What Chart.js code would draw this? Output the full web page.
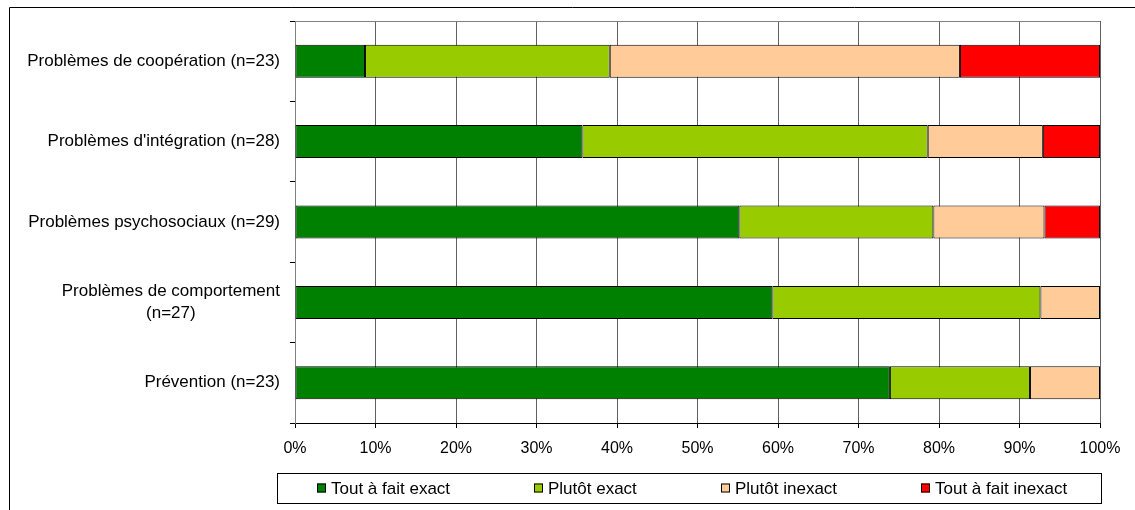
<!DOCTYPE html>
<html>
<head>
<meta charset="utf-8">
<script src="https://cdn.jsdelivr.net/npm/chart.js@4.4.1/dist/chart.umd.min.js"></script>
<style>
  html, body { margin: 0; padding: 0; background: #fff; }
  #wrap { width: 1135px; height: 510px; }
</style>
</head>
<body>
<div id="wrap"><canvas id="chart" width="1135" height="510"></canvas></div>
<script>
// categories (top to bottom) and the four answer shares, in %
const categories = [
  'Problèmes de coopération (n=23)',
  "Problèmes d'intégration (n=28)",
  'Problèmes psychosociaux (n=29)',
  ['Problèmes de comportement', '(n=27)'],
  'Prévention (n=23)'
];
const seriesNames = ['Tout à fait exact', 'Plutôt exact', 'Plutôt inexact', 'Tout à fait inexact'];
const toutExact     = [8.7, 35.7, 55.2, 59.3, 73.9];
const plutotExact   = [30.4, 42.9, 24.1, 33.3, 17.4];
const plutotInexact = [43.5, 14.3, 13.8, 7.4, 8.7];
const toutInexact   = [17.4, 7.1, 6.9, 0, 0];
const xTicks = [0, 10, 20, 30, 40, 50, 60, 70, 80, 90, 100];

const colors = ['#008000', '#99CC00', '#FFCC99', '#FF0000'];
const FONT = '"Liberation Sans", Arial, sans-serif';

// frame, plot border, category labels and boxed legend
const excelLook = {
  id: 'excelLook',
  beforeDraw(chart) {
    const c = chart.ctx;
    c.save();
    c.fillStyle = '#fff';
    c.fillRect(0, 0, chart.width, chart.height);
    c.strokeStyle = '#000';
    c.lineWidth = 1;
    c.beginPath();
    c.moveTo(9.5, chart.height + 2);
    c.lineTo(9.5, 7.5);
    c.lineTo(chart.width + 2, 7.5);
    c.stroke();
    c.restore();
  },
  beforeDatasetsDraw(chart) {
    const a = chart.chartArea, c = chart.ctx;
    c.save();
    c.strokeStyle = '#808080';
    c.lineWidth = 1;
    c.beginPath();
    c.moveTo(a.left, a.top + 0.5);
    c.lineTo(a.right, a.top + 0.5);
    c.stroke();
    c.restore();
  },
  afterDraw(chart) {
    const c = chart.ctx, y = chart.scales.y;
    c.save();
    c.fillStyle = '#000';
    c.font = '17px ' + FONT;
    c.textBaseline = 'middle';
    const right = y.right - 15;
    categories.forEach((lab, i) => {
      const py = y.getPixelForTick(i);
      if (Array.isArray(lab)) {
        const w = Math.max(...lab.map(l => c.measureText(l).width));
        const cx = right - w / 2;
        c.textAlign = 'center';
        lab.forEach((l, k) => c.fillText(l, cx, py + (k - (lab.length - 1) / 2) * 22));
      } else {
        c.textAlign = 'right';
        c.fillText(lab, right, py);
      }
    });

    // legend
    const box = { l: 277, t: 473, r: 1101, b: 503 };
    c.strokeStyle = '#000';
    c.strokeRect(box.l + 0.5, box.t + 0.5, box.r - box.l, box.b - box.t);
    const sq = 9, gapTxt = 5, gapItem = 84;
    const widths = seriesNames.map(n => sq + gapTxt + c.measureText(n).width);
    const total = widths.reduce((s, w) => s + w, 0) + gapItem * (seriesNames.length - 1);
    let x = Math.round(692 - total / 2);
    const my = (box.t + box.b) / 2;
    c.textAlign = 'left';
    seriesNames.forEach((n, i) => {
      c.fillStyle = colors[i];
      c.fillRect(x, my - sq / 2, sq, sq);
      c.strokeRect(x + 0.5, my - sq / 2 + 0.5, sq - 1, sq - 1);
      c.fillStyle = '#000';
      c.fillText(n, x + sq + gapTxt, my + 1);
      x += Math.round(widths[i] + gapItem);
    });
    c.restore();
  }
};

const values = [toutExact, plutotExact, plutotInexact, toutInexact];

new Chart(document.getElementById('chart'), {
  type: 'bar',
  data: {
    labels: categories,
    datasets: seriesNames.map((name, i) => ({
      label: name,
      data: values[i],
      backgroundColor: colors[i],
      borderColor: '#000',
      borderWidth: 1,
      borderSkipped: false,
      categoryPercentage: 1,
      barPercentage: 0.41
    }))
  },
  options: {
    indexAxis: 'y',
    responsive: false,
    animation: false,
    devicePixelRatio: 1,
    layout: { padding: { top: 21, right: 35, bottom: 0, left: 0 } },
    plugins: {
      legend: { display: false },
      tooltip: { enabled: false }
    },
    scales: {
      x: {
        stacked: true,
        min: 0,
        max: 100,
        afterBuildTicks: s => { s.ticks = xTicks.map(v => ({ value: v })); },
        afterFit: s => { s.height = 87; },
        ticks: {
          callback: v => v + '%',
          color: '#000',
          font: { family: FONT, size: 16 },
          padding: 11,
          maxRotation: 0
        },
        grid: { color: '#606060', lineWidth: 1, tickLength: 5, tickColor: '#000' },
        border: { color: '#000', width: 1 }
      },
      y: {
        stacked: true,
        afterFit: s => { s.width = 295; },
        ticks: { display: false },
        grid: { offset: true, drawOnChartArea: false, tickLength: 5, color: '#000' },
        border: { color: '#808080', width: 1 }
      }
    }
  },
  plugins: [excelLook]
});
</script>
</body>
</html>
